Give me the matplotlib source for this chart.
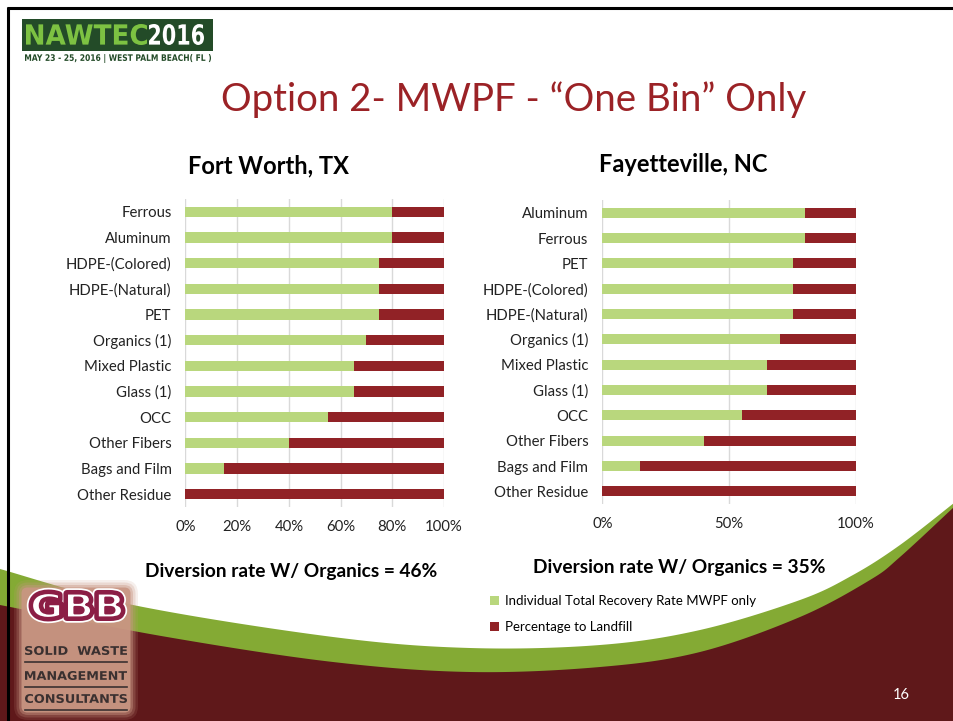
import numpy as np
import matplotlib
matplotlib.use("Agg")
import matplotlib.pyplot as plt
from matplotlib.patches import Rectangle, FancyBboxPatch, Polygon, PathPatch
from matplotlib.ticker import FuncFormatter
from matplotlib.textpath import TextPath
from matplotlib.font_manager import FontProperties
from matplotlib.transforms import Affine2D

# ---------------- data ----------------
fw_categories = ['Ferrous', 'Aluminum', 'HDPE-(Colored)', 'HDPE-(Natural)', 'PET',
                 'Organics (1)', 'Mixed Plastic', 'Glass (1)', 'OCC', 'Other Fibers',
                 'Bags and Film', 'Other Residue']
fw_recovery = [80, 80, 75, 75, 75, 70, 65, 65, 55, 40, 15, 0]
fw_landfill = [20, 20, 25, 25, 25, 30, 35, 35, 45, 60, 85, 100]

fay_categories = ['Aluminum', 'Ferrous', 'PET', 'HDPE-(Colored)', 'HDPE-(Natural)',
                  'Organics (1)', 'Mixed Plastic', 'Glass (1)', 'OCC', 'Other Fibers',
                  'Bags and Film', 'Other Residue']
fay_recovery = [80, 80, 75, 75, 75, 70, 65, 65, 55, 40, 15, 0]
fay_landfill = [20, 20, 25, 25, 25, 30, 35, 35, 45, 60, 85, 100]

fw_ticks = [0, 20, 40, 60, 80, 100]
fay_ticks = [0, 50, 100]

series_names = ['Individual Total Recovery Rate MWPF only', 'Percentage to Landfill']

GREEN = '#B9D77D'
RED = '#912226'
DARK = '#5F181A'
BAND = '#84AA34'
FONT = ['Lato', 'DejaVu Sans']

plt.rcParams['font.family'] = FONT

W, H = 954, 721
fig = plt.figure(figsize=(W / 100, H / 100), dpi=100)
fig.patch.set_facecolor('white')


def fx(x):
    return x / W


def fy(y):
    return 1 - y / H


# ---------------- decoration layer ----------------
deco = fig.add_axes([0, 0, 1, 1], zorder=0)
deco.set_xlim(0, W)
deco.set_ylim(H, 0)
deco.axis('off')


def smooth(pts, n=40):
    pts = np.array(pts, float)
    P = np.vstack([pts[0], pts, pts[-1]])
    out = []
    for i in range(1, len(P) - 2):
        p0, p1, p2, p3 = P[i - 1], P[i], P[i + 1], P[i + 2]
        t = np.linspace(0, 1, n, endpoint=False)[:, None]
        out.append(0.5 * ((2 * p1) + (-p0 + p2) * t + (2 * p0 - 5 * p1 + 4 * p2 - p3) * t ** 2
                          + (-p0 + 3 * p1 - 3 * p2 + p3) * t ** 3))
    out.append(P[-2][None])
    return np.vstack(out)


def fit_text(s, x0, x1, ytop, ybot, family='DejaVu Sans', weight='bold'):
    """Text path stretched to fill box (pixel coords, y down)."""
    tp = TextPath((0, 0), s, size=100, prop=FontProperties(family=family, weight=weight))
    bb = tp.get_extents()
    sx = (x1 - x0) / bb.width
    sy = (ybot - ytop) / bb.height
    tr = Affine2D().translate(-bb.x0, -bb.y0).scale(sx, -sy).translate(x0, ybot)
    return tr.transform_path(tp)


green_top = smooth([(0, 569), (133, 605), (333, 637), (470, 648), (600, 645), (700, 630),
                    (800, 600), (853, 575), (900, 545), (954, 503)])
red_top = smooth([(0, 605), (167, 637), (333, 662), (470, 672), (600, 667), (700, 652),
                  (800, 617), (870, 580), (900, 557), (954, 507)])
deco.add_patch(Polygon(np.vstack([green_top, [(W, H), (0, H)]]), closed=True,
                       facecolor=BAND, edgecolor='none'))
deco.add_patch(Polygon(np.vstack([red_top, [(W, H), (0, H)]]), closed=True,
                       facecolor=DARK, edgecolor='none'))

# slide border (top and left)
deco.plot([7, W], [8, 8], color='black', lw=2.2, solid_capstyle='butt')
deco.plot([8, 8], [7, H], color='black', lw=2.2, solid_capstyle='butt')

# NAWTEC logo
deco.add_patch(Rectangle((22, 19), 191, 32, facecolor='#234B28', edgecolor='none'))
deco.add_patch(PathPatch(fit_text('NAWTEC', 26, 147, 24, 45), facecolor='#7DC242',
                         edgecolor='none'))
deco.add_patch(PathPatch(fit_text('2016', 149, 204, 24, 45), facecolor='white',
                         edgecolor='none'))
deco.add_patch(PathPatch(fit_text('MAY 23 - 25, 2016 | WEST PALM BEACH( FL )', 25, 211, 54, 63),
                         facecolor='#234B28', edgecolor='none'))

# GBB logo
for i, a in enumerate([0.15, 0.25, 0.4, 0.9]):
    g = 8 - 2.5 * i
    deco.add_patch(FancyBboxPatch((22 - g, 588 - g), 108 + 2 * g, 124 + 2 * g,
                                  boxstyle='round,pad=0,rounding_size=%d' % (6 + g),
                                  facecolor='#C99683', edgecolor='none', alpha=a))
gbb = fit_text('GBB', 32, 122, 593, 618)
deco.add_patch(PathPatch(gbb, facecolor='white', edgecolor='white', lw=7.5,
                         joinstyle='round'))
deco.add_patch(PathPatch(gbb, facecolor='#8B1E45', edgecolor='#8B1E45', lw=5,
                         joinstyle='round'))
deco.add_patch(PathPatch(gbb, facecolor='white', edgecolor='#8B1E45', lw=1.6,
                         joinstyle='round'))
for txt, yy in [('SOLID  WASTE', 651), ('MANAGEMENT', 676), ('CONSULTANTS', 699)]:
    deco.add_patch(PathPatch(fit_text(txt, 25, 127, yy - 5, yy + 4,
                                      family='DejaVu Sans'), facecolor='#3A3030',
                             edgecolor='none'))
    deco.plot([25, 127], [yy + 11, yy + 11], color='#3A3030', lw=1.2)

# page number
deco.text(901, 695, '16', color='white', fontsize=10.5, ha='center', va='center')

# titles
fig.text(fx(514), fy(100), 'Option 2- MWPF - \u201cOne Bin\u201d Only', color='#9B2226',
         fontsize=27.6, ha='center', va='center')
fig.text(fx(269), fy(166), 'Fort Worth, TX', fontsize=17, fontweight='bold',
         ha='center', va='center')
fig.text(fx(683), fy(165), 'Fayetteville, NC', fontsize=17, fontweight='bold',
         ha='center', va='center')
fig.text(fx(291), fy(572), 'Diversion rate W/ Organics = 46%', fontsize=13.8,
         fontweight='bold', ha='center', va='center')
fig.text(fx(679), fy(568), 'Diversion rate W/ Organics = 35%', fontsize=13.8,
         fontweight='bold', ha='center', va='center')


# ---------------- charts ----------------
def bar_chart(rect, cats, rec, land, ticks):
    ax = fig.add_axes(rect, zorder=2)
    ax.set_facecolor('none')
    y = np.arange(len(cats))
    b1 = ax.barh(y, rec, height=0.4, color=GREEN, zorder=3, label=series_names[0])
    b2 = ax.barh(y, land, left=rec, height=0.4, color=RED, zorder=3, label=series_names[1])
    ax.set_yticks(y)
    ax.set_yticklabels(cats)
    ax.set_ylim(len(cats) - 0.5, -0.5)
    ax.set_xlim(0, 100)
    ax.set_xticks(ticks)
    ax.xaxis.set_major_formatter(FuncFormatter(lambda v, p: '%d%%' % v))
    ax.grid(axis='x', color='#D9D9D9', lw=1, zorder=0)
    for s in ax.spines.values():
        s.set_visible(False)
    ax.tick_params(length=0, labelsize=10.7, colors='#222222')
    ax.tick_params(axis='y', pad=10)
    ax.tick_params(axis='x', pad=9.5)
    return ax, b1, b2


axL, _, _ = bar_chart([fx(185.5), fy(507), fx(444) - fx(185.5), fy(199) - fy(507)],
                      fw_categories, fw_recovery, fw_landfill, fw_ticks)
axR, h1, h2 = bar_chart([fx(602.3), fy(504), fx(856) - fx(602.3), fy(200) - fy(504)],
                        fay_categories, fay_recovery, fay_landfill, fay_ticks)

fig.legend([h1, h2], series_names, loc='upper left', bbox_to_anchor=(fx(490), fy(595)),
           frameon=False, fontsize=9.5, handlelength=0.7, handleheight=0.7,
           handletextpad=0.4, labelspacing=1.05, borderpad=0, borderaxespad=0)

fig.savefig('out.png', dpi=100, facecolor='white')
